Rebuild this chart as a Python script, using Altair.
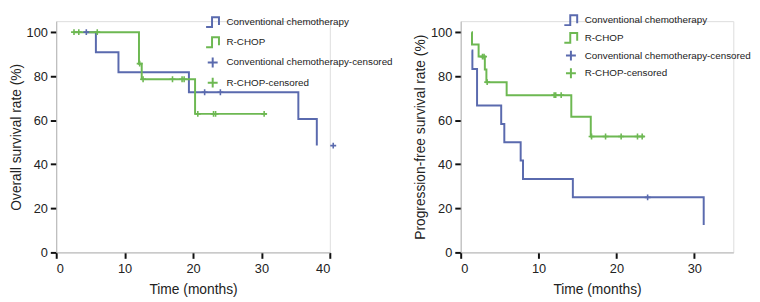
import altair as alt
import pandas as pd

BLUE = "#5a6aae"
GREEN = "#6db852"
NAMES = ["Conventional chemotherapy", "R-CHOP",
         "Conventional chemotherapy-censored", "R-CHOP-censored"]
STEP = "M-1,0.75H-0.1V-0.75H0.95V0.45"
PLUS = "M0,-0.75V0.75M-0.75,0H0.75"

# Overall survival (left)
os_conv_t = [4.4, 5.8, 9.1, 19.4, 35.4, 38.1]
os_conv_s = [100, 90.9, 81.8, 72.7, 60.6, 48.5]
os_conv_cens_t = [4.4, 21.7, 24.0, 40.5]
os_conv_cens_s = [100, 72.7, 72.7, 48.5]
os_rchop_t = [2.5, 12.1, 12.5, 20.3, 30.8]
os_rchop_s = [100, 85.7, 78.6, 62.9, 62.9]
os_rchop_cens_t = [2.6, 3.3, 6.0, 12.2, 12.7, 17.0, 18.4, 18.7, 20.7, 23.0, 23.3, 30.4]
os_rchop_cens_s = [100, 100, 100, 85.7, 78.6, 78.6, 78.6, 78.6, 62.9, 62.9, 62.9, 62.9]

# Progression-free survival (right)
pfs_conv_t = [1.4, 1.5, 2.1, 5.2, 5.6, 7.7, 8.0, 14.4, 31.2]
pfs_conv_s = [91.7, 83.3, 66.7, 58.3, 50.0, 41.7, 33.3, 25.0, 12.5]
pfs_conv_cens_t = [24.0]
pfs_conv_cens_s = [25.0]
pfs_rchop_t = [1.4, 1.45, 2.3, 3.1, 3.3, 5.9, 14.2, 16.7, 23.6]
pfs_rchop_s = [100, 94.4, 88.9, 83.0, 77.3, 71.4, 61.6, 52.6, 52.6]
pfs_rchop_cens_t = [2.8, 3.0, 3.4, 12.0, 12.2, 12.9, 16.8, 18.6, 20.6, 22.7, 23.3]
pfs_rchop_cens_s = [88.9, 88.9, 77.3, 71.4, 71.4, 71.4, 52.6, 52.6, 52.6, 52.6, 52.6]

FONT = "Liberation Sans"


def panel(conv_t, conv_s, rchop_t, rchop_s, cc_t, cc_s, rc_t, rc_s,
          xmax, xticks, ytitle, width, lx, ly, rowpad):
    xs = alt.Scale(domain=[0, xmax], nice=False)
    ys = alt.Scale(domain=[0, 105], nice=False)
    xax = alt.Axis(values=xticks, title="Time (months)", grid=False,
                   tickSize=6, tickWidth=2, tickColor="#111",
                   domainColor="#b5b5b5", domainWidth=1,
                   labelFontSize=13, titleFontSize=14, labelPadding=4,
                   titlePadding=8, labelColor="#222", titleColor="#222",
                   titleFontWeight="normal", labelFont=FONT, titleFont=FONT)
    yax = alt.Axis(values=[0, 20, 40, 60, 80, 100], title=ytitle, grid=False,
                   tickSize=6, tickWidth=2, tickColor="#111",
                   domainColor="#b5b5b5", domainWidth=1,
                   labelFontSize=13, titleFontSize=14, labelPadding=3,
                   titlePadding=3, labelColor="#222", titleColor="#222",
                   titleFontWeight="normal", labelFont=FONT, titleFont=FONT)
    d_conv = pd.DataFrame({"t": conv_t, "s": conv_s})
    d_rchop = pd.DataFrame({"t": rchop_t, "s": rchop_s})
    cens = pd.DataFrame({
        "t": cc_t + rc_t,
        "s": cc_s + rc_s,
        "series": [NAMES[2]] * len(cc_t) + [NAMES[3]] * len(rc_t),
    })
    l1 = alt.Chart(d_conv).mark_line(interpolate="step-after", strokeWidth=2,
                                     color=BLUE).encode(
        x=alt.X("t:Q", scale=xs, axis=xax), y=alt.Y("s:Q", scale=ys, axis=yax))
    l2 = alt.Chart(d_rchop).mark_line(interpolate="step-after", strokeWidth=2,
                                      color=GREEN).encode(
        x=alt.X("t:Q", scale=xs, axis=xax), y=alt.Y("s:Q", scale=ys, axis=yax))
    leg = alt.Legend(title=None, orient="none", legendX=lx, legendY=ly,
                     labelFont=FONT, labelFontSize=10, labelColor="#222",
                     symbolSize=180, symbolStrokeWidth=2, rowPadding=rowpad,
                     labelOffset=6, padding=0, labelLimit=400)
    pts = alt.Chart(cens).mark_point(filled=False, strokeWidth=1.6,
                                     size=64, opacity=1).encode(
        x=alt.X("t:Q", scale=xs, axis=xax),
        y=alt.Y("s:Q", scale=ys, axis=yax),
        color=alt.Color("series:N", scale=alt.Scale(domain=NAMES,
                        range=[BLUE, GREEN, BLUE, GREEN]), legend=leg),
        shape=alt.Shape("series:N", scale=alt.Scale(domain=NAMES,
                        range=[STEP, STEP, PLUS, PLUS]), legend=leg),
    )
    return alt.layer(l1, l2, pts).properties(width=width, height=235)


left = panel(os_conv_t, os_conv_s, os_rchop_t, os_rchop_s,
             os_conv_cens_t, os_conv_cens_s, os_rchop_cens_t, os_rchop_cens_s,
             40, [0, 10, 20, 30, 40], "Overall survival rate (%)", 278,
             151, -7, 0.5)
right = panel(pfs_conv_t, pfs_conv_s, pfs_rchop_t, pfs_rchop_s,
              pfs_conv_cens_t, pfs_conv_cens_s, pfs_rchop_cens_t, pfs_rchop_cens_s,
              35, [0, 10, 20, 30], "Progression-free survival rate (%)", 277,
              104, -9, -3.5)

chart = alt.HConcatChart(hconcat=[left, right], spacing=133, bounds="flush").resolve_scale(
    color="independent", shape="independent").resolve_legend(
    color="independent", shape="independent").configure_view(
    stroke=None).configure(padding={"left": 0, "top": 1, "right": 0, "bottom": 0},
                           font=FONT)

chart.save("out.html", embed_options={"renderer": "svg", "actions": False})
